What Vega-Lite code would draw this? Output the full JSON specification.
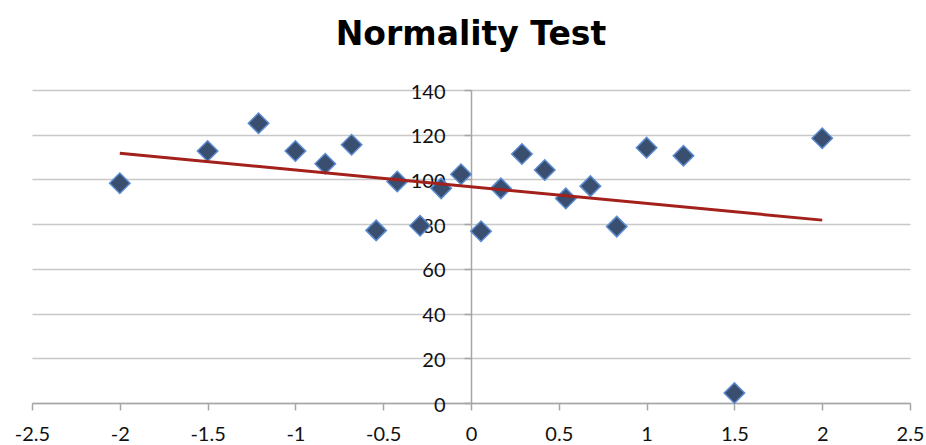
{
  "$schema": "https://vega.github.io/schema/vega-lite/v6.json",
  "width": 878,
  "height": 313,
  "autosize": {"type": "none"},
  "padding": {"left": 32, "top": 90, "right": 16, "bottom": 42},
  "background": "white",
  "config": {"view": {"stroke": null}},
  "title": {"text": "Normality Test", "font": "DejaVu Sans", "fontSize": 33, "fontWeight": "bold", "color": "#000000", "anchor": "middle", "offset": 30},
  "data": {
    "values": [
      {"quantile": -2.0, "value": 98.3},
      {"quantile": -1.5, "value": 112.7},
      {"quantile": -1.21, "value": 125.1},
      {"quantile": -1.0, "value": 112.7},
      {"quantile": -0.83, "value": 107.0},
      {"quantile": -0.68, "value": 115.5},
      {"quantile": -0.54, "value": 77.2},
      {"quantile": -0.42, "value": 99.1},
      {"quantile": -0.29, "value": 79.3},
      {"quantile": -0.17, "value": 96.0},
      {"quantile": -0.057, "value": 102.3},
      {"quantile": 0.057, "value": 76.8},
      {"quantile": 0.17, "value": 96.0},
      {"quantile": 0.29, "value": 111.4},
      {"quantile": 0.42, "value": 104.2},
      {"quantile": 0.54, "value": 91.5},
      {"quantile": 0.68, "value": 97.0},
      {"quantile": 0.83, "value": 78.9},
      {"quantile": 1.0, "value": 114.2},
      {"quantile": 1.21, "value": 110.6},
      {"quantile": 1.5, "value": 4.5},
      {"quantile": 2.0, "value": 118.4}
    ]
  },
  "encoding": {
    "x": {
      "field": "quantile",
      "type": "quantitative",
      "scale": {"domain": [-2.5, 2.5], "nice": false, "zero": false},
      "axis": {
        "title": null,
        "values": [-2.5, -2, -1.5, -1, -0.5, 0, 0.5, 1, 1.5, 2, 2.5],
        "labelExpr": "toString(datum.value)",
        "grid": false,
        "domainColor": "#a6a6a6",
        "domainWidth": 1.5,
        "tickColor": "#a6a6a6",
        "tickWidth": 1.5,
        "tickSize": 7,
        "labelFont": "Lato",
        "labelFontSize": 20,
        "labelColor": "#111111",
        "labelPadding": 14,
        "labelFlush": false
      }
    },
    "y": {
      "field": "value",
      "type": "quantitative",
      "scale": {"domain": [0, 140], "nice": false},
      "axis": {
        "title": null,
        "values": [0, 20, 40, 60, 80, 100, 120, 140],
        "offset": -439,
        "grid": true,
        "gridColor": "#c8c8c8",
        "gridWidth": 1.5,
        "domainColor": "#a6a6a6",
        "domainWidth": 1.5,
        "tickColor": "#a6a6a6",
        "tickWidth": 1.5,
        "tickSize": 7,
        "labelFont": "Lato",
        "labelFontSize": 20,
        "labelColor": "#111111",
        "labelPadding": 19,
        "labelOffset": 2
      }
    }
  },
  "layer": [
    {
      "mark": {"type": "point", "shape": "diamond", "filled": true, "size": 420, "fill": "#3a4f6f", "stroke": "#5b8bd0", "strokeWidth": 1.5, "opacity": 1}
    },
    {
      "transform": [{"regression": "value", "on": "quantile", "extent": [-2, 2]}],
      "mark": {"type": "line", "color": "#a3201b", "strokeWidth": 3}
    }
  ]
}
